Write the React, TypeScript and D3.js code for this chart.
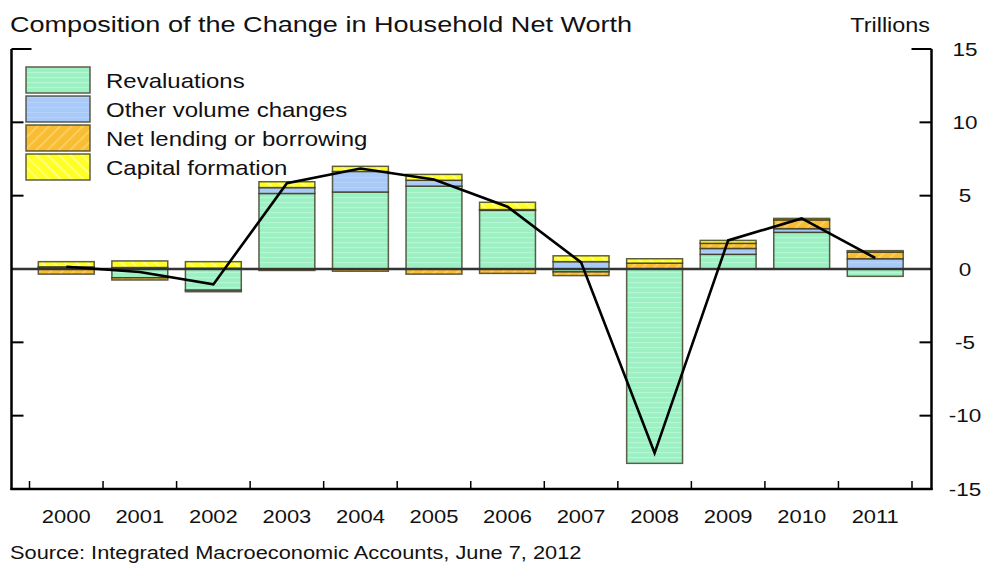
import React from "react";
import * as d3 from "d3";

const years = ["2000", "2001", "2002", "2003", "2004", "2005", "2006", "2007", "2008", "2009", "2010", "2011"];
const revaluations = [0.1, -0.6, -1.45, 5.15, 5.25, 5.65, 4.0, -0.2, -13.25, 1.0, 2.5, -0.5];
const otherVolume = [0.05, 0.1, -0.1, 0.4, 1.4, 0.4, 0.05, 0.5, 0.0, 0.4, 0.25, 0.7];
const netLending = [-0.35, -0.15, 0.05, -0.1, -0.15, -0.35, -0.3, -0.25, 0.4, 0.35, 0.6, 0.45];
const capitalFormation = [0.35, 0.45, 0.45, 0.4, 0.35, 0.4, 0.5, 0.4, 0.3, 0.2, 0.1, 0.1];
const totalChange = [0.15, -0.2, -1.05, 5.85, 6.85, 6.1, 4.25, 0.45, -12.55, 1.95, 3.45, 0.75];
const yTicks = [15, 10, 5, 0, -5, -10, -15];

const seriesKeys = ["rev", "other", "net", "cap"];
const seriesLabels = ["Revaluations", "Other volume changes", "Net lending or borrowing", "Capital formation"];
const seriesFill = ["url(#pGreen)", "url(#pBlue)", "url(#pOrange)", "url(#pYellow)"];

const FONT = "'Liberation Sans', Arial, Helvetica, sans-serif";

function T({ x, y, size, sx = 1.2, anchor = "start", children, fill = "#111" }: any) {
  return (
    <text
      transform={`translate(${x},${y}) scale(${sx},1)`}
      fontSize={size}
      fontFamily={FONT}
      textAnchor={anchor}
      fill={fill}
    >
      {children}
    </text>
  );
}

export default function App() {
  const W = 986;
  const H = 565;
  const axL = 11.5;
  const axR = 931.5;

  const rows = years.map((yr, i) => ({
    year: yr,
    rev: revaluations[i],
    other: otherVolume[i],
    net: netLending[i],
    cap: capitalFormation[i],
  }));

  const x = d3.scaleBand<string>().domain(years).range([29.5, 912]).paddingInner(0.24).paddingOuter(0.12);
  const step = x.step();
  const bw = x.bandwidth();
  const y = d3.scaleLinear().domain([-15, 15]).range([489, 49]);

  const stacked = d3.stack<any>().keys(seriesKeys).offset(d3.stackOffsetDiverging)(rows);

  const linePath = d3
    .line<number>()
    .x((_, i) => (x(years[i]) as number) + bw / 2)
    .y((v) => y(v))
    .curve(d3.curveLinear)(totalChange) as string;

  const boundaries = d3.range(years.length + 1).map((k) => 29.5 + k * step);
  const barStroke = "rgba(55,55,30,0.8)";

  return (
    <svg width={W} height={H} style={{ position: "absolute", left: 0, top: 0, background: "#fff" }}>
      <defs>
        <pattern id="pGreen" width="8" height="5" patternUnits="userSpaceOnUse">
          <rect width="8" height="5" fill="#9cf0c2" />
          <rect y="2" width="8" height="1.2" fill="#b3f7d5" />
        </pattern>
        <pattern id="pBlue" width="8" height="5" patternUnits="userSpaceOnUse">
          <rect width="8" height="5" fill="#a9c9f8" />
          <rect y="2" width="8" height="1" fill="#b8d3fa" />
        </pattern>
        <pattern id="pOrange" width="8" height="8" patternUnits="userSpaceOnUse" patternTransform="rotate(-45)">
          <rect width="8" height="8" fill="#f8bd32" />
          <rect y="3" width="8" height="1.5" fill="#fcd370" />
        </pattern>
        <pattern id="pYellow" width="8" height="8" patternUnits="userSpaceOnUse" patternTransform="rotate(45)">
          <rect width="8" height="8" fill="#ffff26" />
          <rect y="3" width="8" height="1.5" fill="#ffff9a" />
        </pattern>
      </defs>

      {/* title */}
      <T x={10} y={32} size={22} sx={1.23}>Composition of the Change in Household Net Worth</T>
      <T x={930} y={32} size={19.5} sx={1.2} anchor="end">Trillions</T>

      {/* bars */}
      {stacked.map((s, si) => (
        <g key={seriesKeys[si]}>
          {s.map((d, i) => {
            const y0 = y(d[0]);
            const y1 = y(d[1]);
            const top = Math.min(y0, y1);
            const h = Math.abs(y1 - y0);
            if (h < 0.01) return null;
            return (
              <rect
                key={i}
                x={x(years[i])}
                y={top}
                width={bw}
                height={h}
                fill={seriesFill[si]}
                stroke={barStroke}
                strokeWidth={1.5}
              />
            );
          })}
        </g>
      ))}

      {/* zero line */}
      <line x1={axL} x2={axR} y1={y(0)} y2={y(0)} stroke="#333" strokeWidth={2.4} />

      {/* total line */}
      <path d={linePath} fill="none" stroke="#000" strokeWidth={2.6} strokeLinejoin="miter" />

      {/* axes frame */}
      <line x1={axL} x2={axL} y1={y(15)} y2={y(-15) + 1} stroke="#000" strokeWidth={2.5} />
      <line x1={axR} x2={axR} y1={y(15)} y2={y(-15) + 1} stroke="#000" strokeWidth={2.5} />
      <line x1={axL - 1} x2={axR + 1} y1={y(-15)} y2={y(-15)} stroke="#000" strokeWidth={2.5} />
      {yTicks.map((v) => {
        const len = v === 15 ? 20 : 12;
        if (v === -15 || v === 0) return null;
        return (
          <g key={v}>
            <line x1={axL} x2={axL + len} y1={y(v)} y2={y(v)} stroke="#000" strokeWidth={2} />
            <line x1={axR} x2={axR - len} y1={y(v)} y2={y(v)} stroke="#000" strokeWidth={2} />
          </g>
        );
      })}
      {boundaries.map((bx, k) => (
        <line key={k} x1={bx} x2={bx} y1={y(-15)} y2={y(-15) - 8} stroke="#000" strokeWidth={1.5} />
      ))}

      {/* y labels */}
      {yTicks.map((v) => (
        <T key={v} x={965} y={y(v) + 6.5} size={18} sx={1.25} anchor="middle">
          {String(v)}
        </T>
      ))}

      {/* x labels */}
      {years.map((yr) => (
        <T key={yr} x={(x(yr) as number) + bw / 2} y={523} size={18} sx={1.22} anchor="middle">
          {yr}
        </T>
      ))}

      {/* legend */}
      {seriesLabels.map((lab, i) => {
        const ly = 67 + i * 29;
        return (
          <g key={lab}>
            <rect x={26} y={ly} width={64} height={26} fill={seriesFill[i]} stroke={barStroke} strokeWidth={1.5} />
            <T x={106} y={ly + 21} size={20} sx={1.2}>{lab}</T>
          </g>
        );
      })}

      {/* source */}
      <T x={10} y={559} size={17.5} sx={1.245}>Source: Integrated Macroeconomic Accounts, June 7, 2012</T>
    </svg>
  );
}
